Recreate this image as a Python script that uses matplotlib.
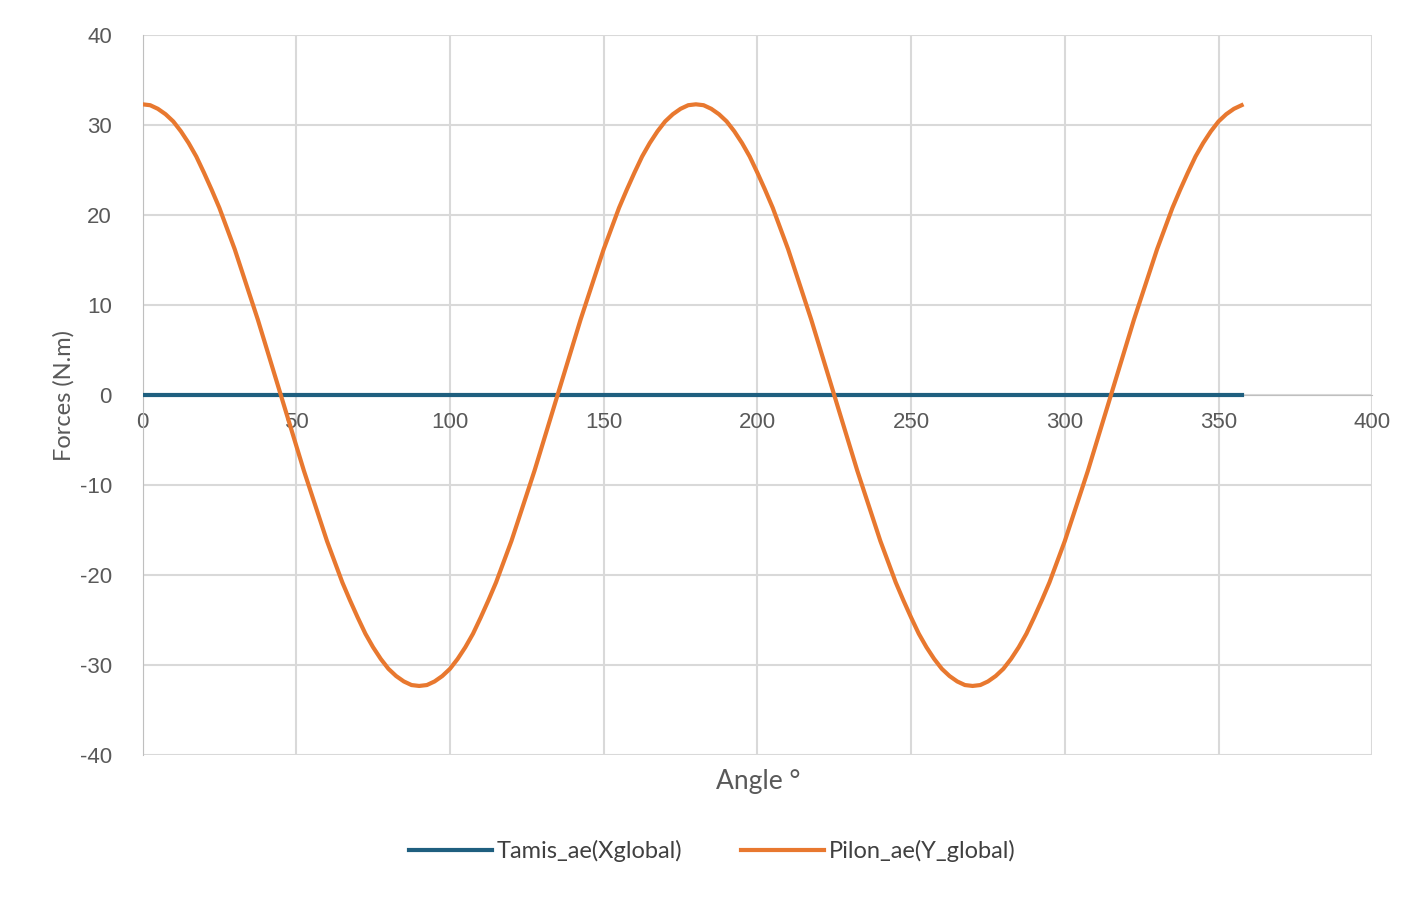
import matplotlib
matplotlib.use('Agg')
import matplotlib.pyplot as plt

plt.rcParams['axes.unicode_minus'] = False
plt.rcParams['font.family'] = ['Liberation Sans', 'DejaVu Sans']

# angle in degrees, 2.5 degree steps (last point ~358)
step = 2.5
# first quarter period (0..45 deg), mirrored as in the picture
q = [32.3, 32.2, 31.8, 31.2, 30.4, 29.3, 28.0, 26.5, 24.7, 22.8,
     20.8, 18.5, 16.2, 13.6, 11.0, 8.4, 5.6, 2.8, 0.0]
half_down = q + [-v for v in q[-2::-1]]          # 0..90 deg
period = half_down + half_down[-2::-1]          # 0..180 deg
pilon = period + period[1:-1]                   # 0..357.5 deg
angle = [i * step for i in range(len(pilon))]
tamis = [0.0] * len(angle)

fig = plt.figure(figsize=(14.25, 8.97), dpi=100)
ax = fig.add_axes([0.1, 0.158, 0.863, 0.803])

ax.plot(angle, tamis, color='#1f5f7f', lw=3, label='Tamis_ae(Xglobal)', zorder=3)
ax.plot(angle, pilon, color='#e8782f', lw=3, label='Pilon_ae(Y_global)', zorder=4)

ax.set_xlim(0, 400)
ax.set_ylim(-40, 40)
ax.set_xticks(range(0, 401, 50))
ax.set_yticks(range(-40, 41, 10))
ax.grid(True, color='#d9d9d9', lw=1.5)
ax.set_axisbelow(True)

ax.spines['bottom'].set_position(('data', 0))
ax.spines['bottom'].set_color('#bfbfbf')
ax.spines['left'].set_color('#bfbfbf')
ax.spines['top'].set_visible(False)
ax.spines['right'].set_visible(False)
ax.tick_params(length=0, labelsize=16, labelcolor='#595959')
ax.tick_params(axis='x', pad=12)
ax.tick_params(axis='y', pad=22)

ax.set_ylabel('Forces (N.m)', fontsize=17, color='#595959', family='Lato')
fig.text(0.532, 0.12, 'Angle °', fontsize=19, color='#595959', ha='center', family='Lato')

fig.legend(loc='lower center', ncol=2, frameon=False,
           prop={'family': 'Lato', 'size': 17},
           bbox_to_anchor=(0.5, 0.015), handlelength=3.5, handletextpad=0.2,
           columnspacing=2.5, labelcolor='#404040')

plt.savefig('out.png')
